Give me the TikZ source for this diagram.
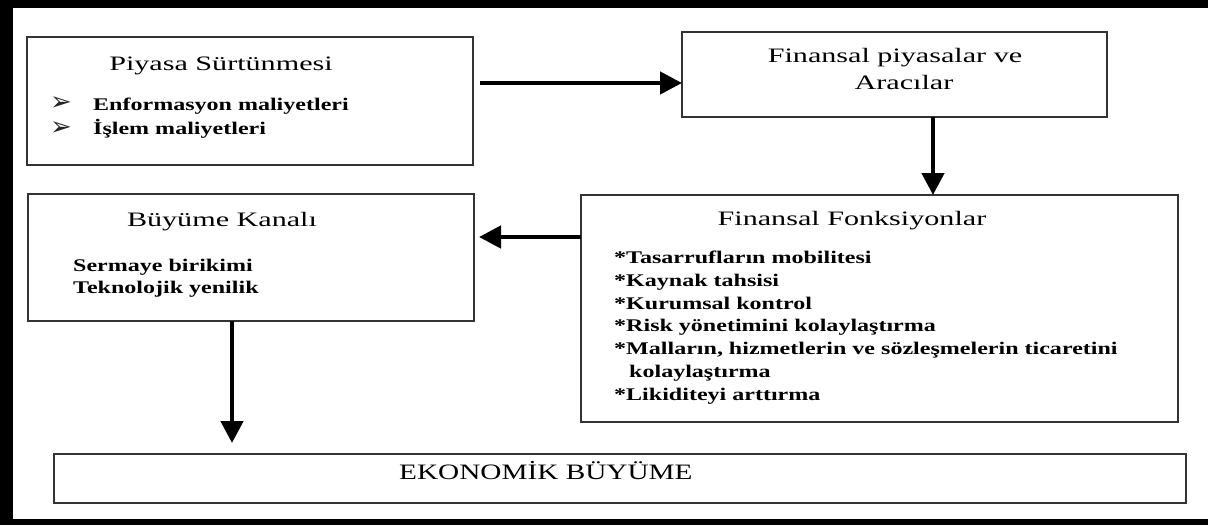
\documentclass[tikz,border=0pt]{standalone}
\usepackage{fontspec}
\setmainfont{Liberation Serif}
\newfontfamily\titlefont{Liberation Serif}[FakeStretch=1.47]
\newfontfamily\itemfont{Liberation Serif}[FakeStretch=1.35]
\newfontfamily\ecofont{Liberation Serif}[FakeStretch=1.33]
\newfontfamily\bulletfont{DejaVu Sans}
\usetikzlibrary{arrows.meta}
\begin{document}
\begin{tikzpicture}[x=1pt,y=-1pt,
  box/.style={draw=black!80, line width=1.6pt, inner sep=0pt, outer sep=0pt},
  ttl/.style={font=\titlefont\fontsize{20.5}{24}\selectfont, inner sep=0pt, anchor=base},
  itm/.style={font=\itemfont\bfseries\fontsize{17.8}{21}\selectfont, inner sep=0pt, anchor=base west},
  eco/.style={font=\ecofont\fontsize{22}{26}\selectfont, inner sep=0pt, anchor=base west},
  bul/.style={font=\bulletfont\fontsize{26}{30}\selectfont, inner sep=0pt, anchor=center, text=black!85},
  arr/.style={line width=4.5pt, -{Triangle[length=22pt,width=22pt]}},
  band/.style={fill=black, draw=none}]
\useasboundingbox (0,0) rectangle (1208,525);
\fill[white] (0,0) rectangle (1208,525);
% outer frame bands
\fill[band] (0,0) rectangle (1208,8);
\fill[band] (0,0) rectangle (13,525);
\fill[band] (0,519) rectangle (1208,525);
% boxes
\node[box, minimum width=446pt, minimum height=128pt] (box1) at (250,101) {};
\node[box, minimum width=425pt, minimum height=85pt] (box2) at (894.5,74.5) {};
\node[box, minimum width=597pt, minimum height=227pt] (box3) at (879.5,308.5) {};
\node[box, minimum width=446pt, minimum height=127pt] (box4) at (251,257.5) {};
\node[box, minimum width=1132pt, minimum height=49pt] (box5) at (620,478.5) {};
% box1 text
\node[ttl] (t1) at (221,70) {Piyasa Sürtünmesi};
\node[bul] (b1a) at (61,104) {➢};
\node[bul] (b1b) at (61,129) {➢};
\node[itm] (i1a) at (93,110) {Enformasyon maliyetleri};
\node[itm] (i1b) at (93,134) {İşlem maliyetleri};
% box2 text
\node[ttl] (t2a) at (895,62.7) {Finansal piyasalar ve};
\node[ttl] (t2b) at (904,89) {Aracılar};
% box3 text
\node[ttl] (t3) at (852,225.7) {Finansal Fonksiyonlar};
\node[itm] (i3a) at (614,263.5) {*Tasarrufların mobilitesi};
\node[itm] (i3b) at (614,286.3) {*Kaynak tahsisi};
\node[itm] (i3c) at (614,309.1) {*Kurumsal kontrol};
\node[itm] (i3d) at (614,331.9) {*Risk yönetimini kolaylaştırma};
\node[itm] (i3e) at (614,354.7) {*Malların, hizmetlerin ve sözleşmelerin ticaretini};
\node[itm] (i3f) at (629,377.5) {kolaylaştırma};
\node[itm] (i3g) at (614,400.3) {*Likiditeyi arttırma};
% box4 text
\node[ttl] (t4) at (222,226.7) {Büyüme Kanalı};
\node[itm] (i4a) at (73,271) {Sermaye birikimi};
\node[itm] (i4b) at (73,293) {Teknolojik yenilik};
% box5 text
\node[eco] (t5) at (399,479.3) {EKONOMİK BÜYÜME};
% arrows
\draw[arr] ([shift={(7,-18)}]box1.east) -- ([shift={(0,8.5)}]box2.west);
\draw[arr] ([shift={(38.5,0)}]box2.south) -- ([shift={(38.5,0)}]box2.south |- box3.north);
\draw[arr] ([shift={(0,-71.5)}]box3.west) -- ([shift={(5,-20.5)}]box4.east);
\draw[arr, shorten >=11pt] ([shift={(-19,0)}]box4.south) -- ([shift={(-19,0)}]box4.south |- box5.north);
\end{tikzpicture}
\end{document}
